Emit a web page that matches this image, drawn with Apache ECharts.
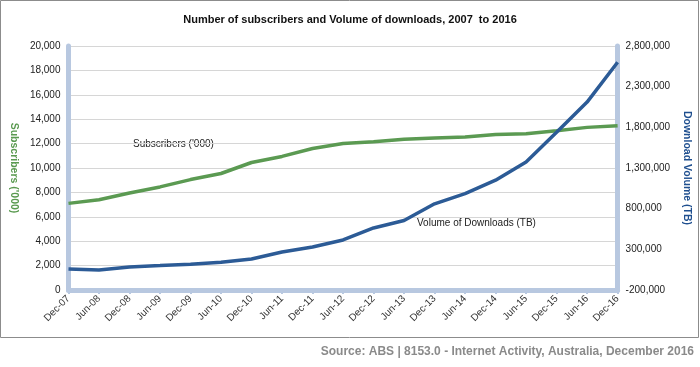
<!DOCTYPE html>
<html><head><meta charset="utf-8">
<script src="https://cdn.jsdelivr.net/npm/echarts@6/dist/echarts.min.js"></script>
<style>html,body{margin:0;padding:0;background:#fff}#c{width:700px;height:367px}</style>
</head><body><div id="c"></div>
<script>
const categories = ['Dec-07','Jun-08','Dec-08','Jun-09','Dec-09','Jun-10','Dec-10','Jun-11','Dec-11','Jun-12','Dec-12','Jun-13','Dec-13','Jun-14','Dec-14','Jun-15','Dec-15','Jun-16','Dec-16'];
const subscribers = [7100,7400,7950,8450,9050,9550,10450,10950,11600,12000,12150,12350,12450,12550,12750,12800,13050,13330,13470];
const downloads = [58000,46000,83000,100000,118000,140000,181000,267000,329000,415000,563000,655000,860000,985000,1150000,1375000,1740000,2110000,2600000];
const leftTicks = {min:0, max:20000, interval:2000};
const rightTicks = {min:-200000, max:2800000, interval:500000};

const fmt = v => v.toLocaleString('en-US');
const chart = echarts.init(document.getElementById('c'), null, {renderer:'canvas'});
const axisBlue = '#b8c8e0';
chart.setOption({
  animation:false,
  title:{text:'Number of subscribers and Volume of downloads, 2007  to 2016', left:'center', top:9,
    textStyle:{fontFamily:'Liberation Sans', fontWeight:'bold', fontSize:11, color:'#111'}},
  grid:{left:61, right:80, top:46, bottom:77},
  xAxis:{type:'category', data:categories, boundaryGap:false,
    axisLine:{lineStyle:{color:axisBlue, width:5}},
    axisTick:{show:true, length:4, lineStyle:{color:axisBlue, width:2}, alignWithLabel:true},
    axisLabel:{rotate:45, fontSize:10, color:'#333', fontFamily:'Liberation Sans', margin:7, interval:0}},
  yAxis:[
    {type:'value', min:leftTicks.min, max:leftTicks.max, interval:leftTicks.interval, position:'left',
     name:"Subscribers ('000)", nameLocation:'middle', nameGap:40, nameRotate:-90,
     nameTextStyle:{color:'#5a9a50', fontWeight:'bold', fontSize:10.5, fontFamily:'Liberation Sans'},
     axisLine:{show:true, lineStyle:{color:axisBlue, width:5}}, axisTick:{show:false},
     axisLabel:{formatter:fmt, fontSize:10, color:'#222', fontFamily:'Liberation Sans', margin:8},
     splitLine:{lineStyle:{color:'#d6d6d6', width:1}}},
    {type:'value', min:rightTicks.min, max:rightTicks.max, interval:rightTicks.interval, position:'right',
     name:'Download Volume (TB)', nameLocation:'middle', nameGap:60, nameRotate:-90,
     nameTextStyle:{color:'#1f4f8f', fontWeight:'bold', fontSize:10.5, fontFamily:'Liberation Sans'},
     axisLine:{show:true, lineStyle:{color:axisBlue, width:5}}, axisTick:{show:false},
     axisLabel:{formatter:fmt, fontSize:10, color:'#222', fontFamily:'Liberation Sans', margin:8},
     splitLine:{show:false}}
  ],
  series:[
    {type:'line', name:"Subscribers ('000)", data:subscribers, yAxisIndex:0, symbol:'none',
     lineStyle:{color:'#5b9a52', width:3.5}, z:3},
    {type:'line', name:'Volume of Downloads (TB)', data:downloads, yAxisIndex:1, symbol:'none',
     lineStyle:{color:'#2c5b96', width:3.5}, z:4}
  ],
  graphic:[
    {type:'rect', shape:{x:0.5, y:0.5, width:698, height:337}, style:{fill:'none', stroke:'#8c8c8c', lineWidth:1}, z:-10},
    {type:'text', left:133, top:139, style:{text:"Subscribers ('000)", font:'10px "Liberation Sans"', fill:'#222'}},
    {type:'text', left:417, top:218, style:{text:'Volume of Downloads (TB)', font:'10px "Liberation Sans"', fill:'#222'}},
    {type:'text', right:6, top:346, style:{text:'Source: ABS | 8153.0 - Internet Activity, Australia, December 2016', font:'bold 12px "Liberation Sans"', fill:'#8a8a8a'}}
  ]
});
</script></body></html>
